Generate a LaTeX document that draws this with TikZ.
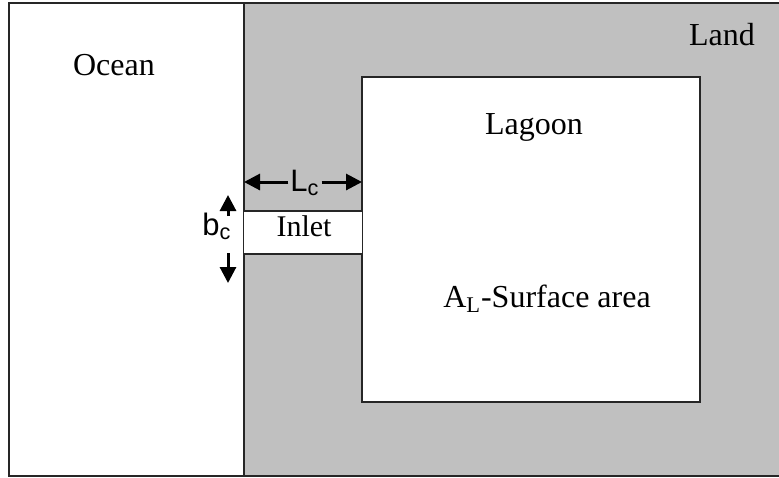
\documentclass[tikz,border=0pt]{standalone}
\usepackage{fontspec}
\setmainfont{Liberation Serif}
\setsansfont{Liberation Sans}
\usetikzlibrary{arrows.meta,positioning}
\definecolor{landgray}{RGB}{192,192,192}
\begin{document}
\begin{tikzpicture}[x=0.5pt, y=-0.5pt,
    region/.style={font=\fontsize{16}{19}\selectfont, inner sep=0pt, anchor=base},
    dimlbl/.style={font=\sffamily\fontsize{15.5}{18}\selectfont, inner sep=0pt, outer sep=1pt, anchor=base},
    dim/.style={-{Triangle[length=8pt, width=8pt]}, line width=1.5pt},
    border/.style={line width=1pt, draw=black!85}
]
\useasboundingbox (0,0) rectangle (779,477);
\clip (0,0) rectangle (779,477);

% Land, ocean and coast
\fill[landgray] (244,3) rectangle (790,476);
\draw[border] (9,3) rectangle (790,476);
\draw[border] (244,3) -- (244,476);

% Lagoon
\draw[border, fill=white] (362,77) rectangle (700,402);

% Inlet channel
\fill[white] (244,211) rectangle (362,254);
\draw[border] (244,211) -- (362,211);
\draw[border] (244,254) -- (362,254);

% Labels
\node[region] (ocean) at (114,75) {Ocean};
\node[region] (land) at (722,45) {Land};
\node[region] (lagoon) at (534,134) {Lagoon};
\node[region] (area) at (547,307) {A\textsubscript{L}-Surface area};
\node[region, font=\fontsize{15}{18}\selectfont] (inlet) at (304,236) {Inlet};

% Inlet length
\coordinate (coast) at (244,182);
\coordinate (lagw) at (362,182);
\node[dimlbl] (lc) at (305,191) {L\textsubscript{c}};
\draw[dim] (lc.west |- coast) -- (coast);
\draw[dim] (lc.east |- lagw) -- (lagw);

% Inlet width
\coordinate (btop) at (228,195);
\coordinate (bbot) at (228,283);
\node[dimlbl] (bc) at (217,235) {b\textsubscript{c}};
\draw[dim] (228,216) -- (btop);
\draw[dim] (228,253) -- (bbot);
\end{tikzpicture}
\end{document}
